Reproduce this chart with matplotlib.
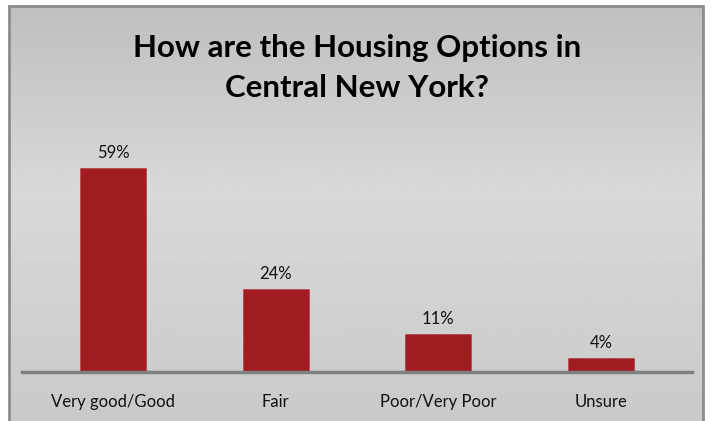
import numpy as np
import matplotlib.pyplot as plt
from matplotlib.patches import Rectangle

plt.rcParams['font.family'] = ['Lato', 'DejaVu Sans']

categories = ['Very good/Good', 'Fair', 'Poor/Very Poor', 'Unsure']
values = [59, 24, 11, 4]
labels = ['59%', '24%', '11%', '4%']

W, H = 712, 421
fig = plt.figure(figsize=(W / 100, H / 100), dpi=100)

# gradient background inside the frame
bg = fig.add_axes([9 / W, 0, 694 / W, 1 - 6 / H])
bg.set_axis_off()
t = np.linspace(0, 1, 256)
shade = np.interp(t, [0, 0.45, 1], [0.75, 0.85, 0.79])
bg.imshow(shade[:, None], cmap='gray', vmin=0, vmax=1, aspect='auto',
          extent=[0, 1, 0, 1], origin='upper')
bg.set_xlim(0, 1)
bg.set_ylim(0, 1)
fig.patches.append(Rectangle((9 / W, -0.02), 694 / W, 1 - 6 / H + 0.02,
                             transform=fig.transFigure, fill=False,
                             edgecolor='#8c8c8c', linewidth=2))

ax = fig.add_axes([22 / W, 1 - 372 / H, 670 / W, (372 - 130) / H])
ax.patch.set_alpha(0)
x = np.arange(len(categories))
ax.bar(x, values, width=0.405, color='#A01C21', edgecolor='#b04048', linewidth=0.5)
for xi, v, lab in zip(x, values, labels):
    ax.text(xi, v + 2.0, lab, ha='center', va='bottom', fontsize=12, color='#111111')

ax.set_xlim(-0.56, 3.56)
ax.set_ylim(0, 70)
for s in ['top', 'right', 'left']:
    ax.spines[s].set_visible(False)
ax.spines['bottom'].set_color('#808080')
ax.spines['bottom'].set_linewidth(2.5)
ax.set_yticks([])
ax.set_xticks(x)
ax.set_xticklabels(categories, fontsize=12, color='#111111')
ax.tick_params(axis='x', length=0, pad=16)

fig.text(357 / W, 1 - 68 / H, 'How are the Housing Options in\nCentral New York?',
         ha='center', va='center', fontsize=22.5, fontweight='bold',
         linespacing=1.55, color='black')

fig.savefig('out.png', dpi=100)
